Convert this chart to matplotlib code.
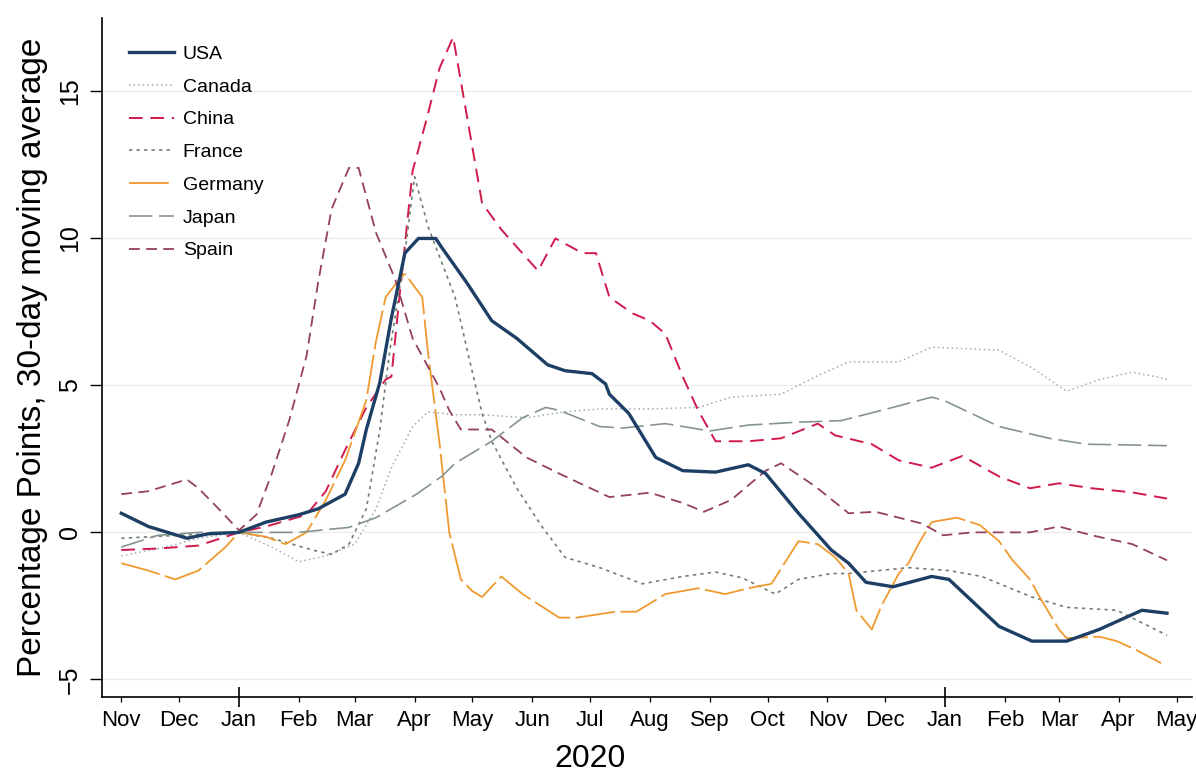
import matplotlib

matplotlib.use("Agg")
import matplotlib.dates as mdates
import matplotlib.pyplot as plt
import numpy as np

plt.rcParams["font.family"] = ["Liberation Sans", "DejaVu Sans"]

# values (percentage points, 30-day moving average)
usa_dates = ["2019-11-01", "2019-11-15", "2019-12-05", "2019-12-16", "2020-01-01", "2020-01-15",
             "2020-02-01", "2020-02-11", "2020-02-25", "2020-03-03", "2020-03-07", "2020-03-14",
             "2020-03-20", "2020-03-27", "2020-04-03", "2020-04-12", "2020-04-15", "2020-04-28",
             "2020-05-11", "2020-05-24", "2020-06-09", "2020-06-18", "2020-07-02", "2020-07-09",
             "2020-07-11", "2020-07-21", "2020-08-04", "2020-08-18", "2020-09-04", "2020-09-21",
             "2020-09-30", "2020-10-17", "2020-11-03", "2020-11-12", "2020-11-21", "2020-12-05",
             "2020-12-25", "2021-01-03", "2021-01-29", "2021-02-15", "2021-03-05", "2021-03-22",
             "2021-04-13", "2021-04-26"]
usa_vals = [0.65, 0.2, -0.2, -0.05, 0.0, 0.35, 0.6, 0.8, 1.3, 2.35, 3.5, 5.1, 7.3, 9.5, 10.0,
            10.0, 9.7, 8.5, 7.2, 6.6, 5.7, 5.5, 5.4, 5.05, 4.7, 4.05, 2.55, 2.1, 2.05, 2.3, 2.0,
            0.65, -0.6, -1.05, -1.7, -1.85, -1.5, -1.6, -3.2, -3.7, -3.7, -3.3, -2.65, -2.75]

canada_dates = ["2019-11-01", "2019-11-24", "2019-12-11", "2020-01-01", "2020-01-18", "2020-02-01",
                "2020-02-15", "2020-03-01", "2020-03-12", "2020-03-20", "2020-03-31", "2020-04-08",
                "2020-04-22", "2020-05-06", "2020-05-29", "2020-06-18", "2020-07-06", "2020-08-01",
                "2020-08-26", "2020-09-12", "2020-10-08", "2020-10-26", "2020-11-12", "2020-12-08",
                "2020-12-25", "2021-01-29", "2021-02-15", "2021-03-05", "2021-03-22", "2021-04-08",
                "2021-04-20", "2021-04-26"]
canada_vals = [-0.8, -0.5, -0.2, 0.0, -0.5, -1.0, -0.8, -0.4, 0.8, 2.2, 3.6, 4.1, 4.0, 4.0, 3.9,
               4.1, 4.2, 4.2, 4.25, 4.6, 4.7, 5.3, 5.8, 5.8, 6.3, 6.2, 5.6, 4.8, 5.2, 5.45, 5.3, 5.2]

china_dates = ["2019-11-01", "2019-11-20", "2019-12-11", "2020-01-01", "2020-01-15", "2020-02-05",
               "2020-02-15", "2020-02-25", "2020-03-07", "2020-03-17", "2020-03-20", "2020-03-24",
               "2020-03-31", "2020-04-07", "2020-04-14", "2020-04-21", "2020-05-06", "2020-05-16",
               "2020-06-04", "2020-06-13", "2020-06-27", "2020-07-04", "2020-07-11", "2020-07-23",
               "2020-08-01", "2020-08-09", "2020-08-18", "2020-08-26", "2020-09-04", "2020-09-21",
               "2020-10-08", "2020-10-27", "2020-11-05", "2020-11-24", "2020-12-08", "2020-12-25",
               "2021-01-10", "2021-01-29", "2021-02-14", "2021-03-01", "2021-03-18", "2021-04-08",
               "2021-04-26"]
china_vals = [-0.6, -0.55, -0.45, 0.0, 0.2, 0.6, 1.4, 2.8, 4.25, 5.2, 5.3, 7.9, 12.3, 14.0, 15.8,
              16.85, 11.2, 10.3, 8.9, 10.0, 9.5, 9.5, 8.0, 7.45, 7.2, 6.75, 5.3, 4.15, 3.1, 3.1,
              3.2, 3.7, 3.3, 3.0, 2.45, 2.2, 2.6, 1.9, 1.5, 1.67, 1.5, 1.36, 1.15]

france_dates = ["2019-11-01", "2019-12-01", "2020-01-01", "2020-01-18", "2020-02-08", "2020-02-18",
                "2020-02-27", "2020-03-07", "2020-03-14", "2020-03-19", "2020-03-27", "2020-04-01",
                "2020-04-08", "2020-04-22", "2020-04-29", "2020-05-06", "2020-05-11", "2020-05-24",
                "2020-06-06", "2020-06-18", "2020-07-06", "2020-07-28", "2020-08-18", "2020-09-04",
                "2020-09-18", "2020-10-05", "2020-10-17", "2020-11-03", "2020-11-12", "2020-12-13",
                "2021-01-03", "2021-01-20", "2021-02-15", "2021-03-05", "2021-03-31", "2021-04-26"]
france_vals = [-0.2, -0.1, 0.0, -0.2, -0.6, -0.75, -0.4, 0.8, 3.5, 6.1, 9.5, 12.1, 10.4, 8.0, 6.0,
               4.05, 3.1, 1.5, 0.2, -0.85, -1.2, -1.75, -1.5, -1.35, -1.55, -2.1, -1.6, -1.4, -1.4,
               -1.2, -1.3, -1.5, -2.2, -2.55, -2.65, -3.5]

germany_dates = ["2019-11-01", "2019-11-15", "2019-11-29", "2019-12-11", "2019-12-25", "2020-01-01",
                 "2020-01-15", "2020-01-25", "2020-02-05", "2020-02-15", "2020-02-25", "2020-03-07",
                 "2020-03-12", "2020-03-17", "2020-03-24", "2020-03-27", "2020-04-05", "2020-04-08",
                 "2020-04-14", "2020-04-19", "2020-04-25", "2020-05-01", "2020-05-06", "2020-05-16",
                 "2020-05-27", "2020-06-15", "2020-06-24", "2020-07-14", "2020-07-25", "2020-08-09",
                 "2020-08-26", "2020-09-09", "2020-09-21", "2020-10-03", "2020-10-17", "2020-10-27",
                 "2020-11-05", "2020-11-12", "2020-11-16", "2020-11-24", "2020-11-29", "2020-12-08",
                 "2020-12-13", "2020-12-19", "2020-12-25", "2021-01-07", "2021-01-19", "2021-01-29",
                 "2021-02-05", "2021-02-14", "2021-02-19", "2021-03-01", "2021-03-05", "2021-03-22",
                 "2021-03-31", "2021-04-10", "2021-04-23"]
germany_vals = [-1.05, -1.3, -1.6, -1.3, -0.5, 0.0, -0.15, -0.4, 0.0, 1.1, 2.45, 4.5, 6.5, 8.0,
                8.6, 8.8, 8.0, 6.1, 3.0, 0.0, -1.6, -2.0, -2.2, -1.5, -2.1, -2.9, -2.9, -2.7, -2.7,
                -2.1, -1.9, -2.1, -1.9, -1.75, -0.3, -0.4, -0.85, -1.4, -2.65, -3.3, -2.5, -1.4,
                -1.05, -0.3, 0.35, 0.5, 0.25, -0.3, -0.95, -1.6, -2.2, -3.3, -3.6, -3.55, -3.7,
                -4.0, -4.45]

japan_dates = ["2019-11-01", "2019-11-20", "2019-12-11", "2020-01-01", "2020-02-01", "2020-02-27",
               "2020-03-12", "2020-04-02", "2020-04-15", "2020-04-22", "2020-05-11", "2020-05-27",
               "2020-06-08", "2020-06-15", "2020-07-06", "2020-07-18", "2020-08-09", "2020-09-01",
               "2020-09-21", "2020-10-17", "2020-11-08", "2020-11-29", "2020-12-25", "2020-12-31",
               "2021-01-29", "2021-02-24", "2021-03-15", "2021-04-26"]
japan_vals = [-0.5, -0.1, 0.0, 0.0, 0.0, 0.17, 0.5, 1.3, 1.9, 2.35, 3.1, 3.9, 4.25, 4.15, 3.6,
              3.55, 3.7, 3.45, 3.65, 3.75, 3.8, 4.15, 4.6, 4.5, 3.6, 3.2, 3.0, 2.95]

spain_dates = ["2019-11-01", "2019-11-15", "2019-12-05", "2019-12-11", "2019-12-20", "2020-01-01",
               "2020-01-10", "2020-01-18", "2020-01-27", "2020-02-05", "2020-02-11", "2020-02-18",
               "2020-02-27", "2020-03-03", "2020-03-12", "2020-03-22", "2020-03-31", "2020-04-14",
               "2020-04-19", "2020-04-25", "2020-05-11", "2020-05-29", "2020-06-15", "2020-07-11",
               "2020-08-01", "2020-08-18", "2020-08-29", "2020-09-12", "2020-09-30", "2020-10-08",
               "2020-10-26", "2020-11-12", "2020-11-26", "2020-12-20", "2020-12-31", "2021-01-15",
               "2021-02-14", "2021-03-01", "2021-03-18", "2021-04-08", "2021-04-26"]
spain_vals = [1.3, 1.4, 1.8, 1.5, 0.9, 0.07, 0.6, 2.0, 3.8, 6.0, 8.5, 11.0, 12.4, 12.4, 10.2, 8.6,
              6.6, 4.9, 4.15, 3.5, 3.5, 2.55, 2.0, 1.2, 1.35, 1.0, 0.7, 1.1, 2.1, 2.35, 1.55, 0.65,
              0.7, 0.3, -0.1, 0.0, 0.0, 0.2, -0.1, -0.4, -0.95]

series = [
    ("USA", usa_dates, usa_vals, "#1d3f66", "-", 2.4),
    ("Canada", canada_dates, canada_vals, "#a2aab6", (0, (1, 2)), 1.1),
    ("China", china_dates, china_vals, "#d01a4c", (0, (7, 4)), 1.4),
    ("France", france_dates, france_vals, "#6f8073", (0, (2, 2.5)), 1.2),
    ("Germany", germany_dates, germany_vals, "#ef9a2f", (0, (22, 3)), 1.3),
    ("Japan", japan_dates, japan_vals, "#86948f", (0, (14, 4)), 1.2),
    ("Spain", spain_dates, spain_vals, "#94405f", (0, (6, 3.5)), 1.3),
]

fig = plt.figure(figsize=(11.96, 7.79), dpi=100)
ax = fig.add_axes([0.0853, 0.1053, 0.9114, 0.8716])

for name, dates, vals, color, ls, lw in series:
    ax.plot(np.array(dates, dtype="datetime64[D]"), vals, color=color, linestyle=ls,
            lw=lw, label=name, zorder=5 if name == "USA" else 3)

ax.set_xlim(np.datetime64("2019-10-22"), np.datetime64("2021-05-09"))
ax.set_ylim(-5.6, 17.5)
ax.set_yticks([-5, 0, 5, 10, 15])
ax.yaxis.grid(True, color="#ececec", lw=0.9)
ax.set_axisbelow(True)

ax.xaxis.set_major_locator(mdates.MonthLocator(bymonth=1))
ax.xaxis.set_minor_locator(mdates.MonthLocator())
ax.xaxis.set_major_formatter(mdates.DateFormatter("%b"))
ax.xaxis.set_minor_formatter(mdates.DateFormatter("%b"))
ax.tick_params(axis="x", which="major", length=14, width=1.2, direction="inout",
               pad=2.5, labelsize=16)
ax.tick_params(axis="x", which="minor", length=3.6, width=0.9, direction="out",
               pad=6, labelsize=16)
ax.tick_params(axis="y", length=8.5, width=1.0, direction="out", pad=6,
               labelsize=18, labelrotation=90)
for lab in ax.get_yticklabels():
    lab.set_verticalalignment("center")

for side in ("top", "right"):
    ax.spines[side].set_visible(False)
for side in ("left", "bottom"):
    ax.spines[side].set_linewidth(1.2)

ax.set_xlabel("2020", fontsize=23)
ax.xaxis.set_label_coords(0.448, -0.07)
ax.set_ylabel("Percentage Points, 30-day moving average", fontsize=24)
ax.yaxis.set_label_coords(-0.05, 0.5)

ax.legend(loc="upper left", bbox_to_anchor=(0.025, 0.96), frameon=False, fontsize=14,
          borderpad=0, borderaxespad=0, labelspacing=0.78, handlelength=2.3,
          handletextpad=0.45)

fig.savefig("out.png", dpi=100)
